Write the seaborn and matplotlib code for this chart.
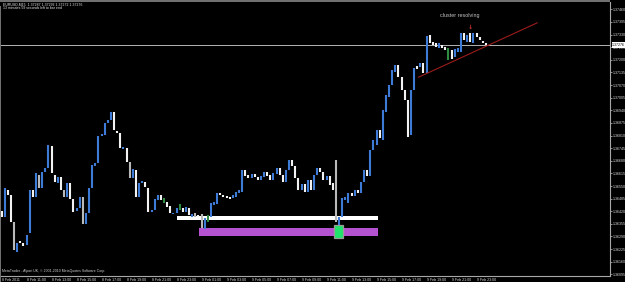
import numpy as np
import pandas as pd
import matplotlib
matplotlib.use("Agg")
import matplotlib.pyplot as plt
import seaborn as sns
from matplotlib.patches import Rectangle

# ---------------- data ----------------
symbol = "EURUSD,M15"
header_ohlc = ["1.37287", "1.37292", "1.37272", "1.37276"]
timer_text = "13 minutes 59 seconds left to bar end"
footer_text = "MetaTrader - Alpari UK, \u00a9 2001-2010 MetaQuotes Software Corp."
note_text = "cluster resolving"

opens = [
    1.36421, 1.36390, 1.36530, 1.36504, 1.36365, 1.36210, 1.36267, 1.36257, 1.36246, 1.36308,
    1.36530, 1.36493, 1.36607, 1.36540, 1.36622, 1.36643, 1.36756, 1.36607, 1.36566, 1.36596,
    1.36530, 1.36493, 1.36566, 1.36483, 1.36421, 1.36437, 1.36493, 1.36354, 1.36411, 1.36540,
    1.36653, 1.36669, 1.36808, 1.36813, 1.36875, 1.36890, 1.36931, 1.36833, 1.36823, 1.36741,
    1.36746, 1.36674, 1.36591, 1.36633, 1.36493, 1.36566, 1.36571, 1.36540, 1.36416, 1.36427,
    1.36478, 1.36504, 1.36488, 1.36468, 1.36447, 1.36406, 1.36411, 1.36457, 1.36437, 1.36416,
    1.36437, 1.36390, 1.36411, 1.36401, 1.36406, 1.36329, 1.36365, 1.36390, 1.36452, 1.36457,
    1.36514, 1.36504, 1.36499, 1.36493, 1.36488, 1.36493, 1.36514, 1.36519, 1.36633, 1.36607,
    1.36591, 1.36612, 1.36596, 1.36581, 1.36596, 1.36622, 1.36607, 1.36581, 1.36612, 1.36643,
    1.36607, 1.36571, 1.36633, 1.36684, 1.36653, 1.36591, 1.36530, 1.36560, 1.36519, 1.36581,
    1.36530, 1.36607, 1.36643, 1.36622, 1.36581, 1.36602, 1.36566, 1.36684, 1.36334, 1.36390,
    1.36478, 1.36463, 1.36514, 1.36499, 1.36530, 1.36514, 1.36571, 1.36633, 1.36602, 1.36736,
    1.36761, 1.36839, 1.36787, 1.36931, 1.37008, 1.37070, 1.37137, 1.37173, 1.37111, 1.37045,
    1.36993, 1.36813, 1.37045, 1.37168, 1.37163, 1.37184, 1.37132, 1.37328, 1.37292, 1.37287,
    1.37261, 1.37276, 1.37266, 1.37261, 1.37251, 1.37214, 1.37240, 1.37240, 1.37338, 1.37292,
    1.37338, 1.37287, 1.37338, 1.37317, 1.37297, 1.37287,
]
closes = [
    1.36390, 1.36540, 1.36504, 1.36365, 1.36221, 1.36257, 1.36257, 1.36241, 1.36298, 1.36530,
    1.36493, 1.36617, 1.36540, 1.36622, 1.36643, 1.36761, 1.36617, 1.36571, 1.36596, 1.36530,
    1.36493, 1.36566, 1.36483, 1.36416, 1.36437, 1.36493, 1.36354, 1.36411, 1.36540, 1.36658,
    1.36669, 1.36808, 1.36818, 1.36875, 1.36890, 1.36931, 1.36839, 1.36823, 1.36746, 1.36751,
    1.36674, 1.36591, 1.36638, 1.36493, 1.36566, 1.36576, 1.36545, 1.36416, 1.36427, 1.36483,
    1.36504, 1.36478, 1.36463, 1.36442, 1.36411, 1.36411, 1.36437, 1.36427, 1.36416, 1.36442,
    1.36401, 1.36406, 1.36390, 1.36390, 1.36334, 1.36385, 1.36401, 1.36463, 1.36468, 1.36514,
    1.36504, 1.36493, 1.36488, 1.36483, 1.36504, 1.36519, 1.36530, 1.36633, 1.36602, 1.36591,
    1.36612, 1.36596, 1.36581, 1.36602, 1.36622, 1.36602, 1.36581, 1.36617, 1.36643, 1.36607,
    1.36571, 1.36633, 1.36684, 1.36653, 1.36591, 1.36530, 1.36560, 1.36519, 1.36581, 1.36530,
    1.36607, 1.36643, 1.36622, 1.36581, 1.36602, 1.36555, 1.36530, 1.36365, 1.36390, 1.36488,
    1.36493, 1.36514, 1.36499, 1.36530, 1.36514, 1.36571, 1.36633, 1.36602, 1.36736, 1.36787,
    1.36839, 1.36797, 1.36942, 1.37019, 1.37070, 1.37148, 1.37173, 1.37111, 1.37045, 1.36993,
    1.36802, 1.37045, 1.37158, 1.37153, 1.37184, 1.37132, 1.37323, 1.37287, 1.37276, 1.37266,
    1.37287, 1.37261, 1.37251, 1.37199, 1.37204, 1.37256, 1.37261, 1.37338, 1.37302, 1.37328,
    1.37292, 1.37338, 1.37317, 1.37302, 1.37287, 1.37276,
]
# candles drawn in other colours than plain bull / bear
special_kinds = {4: "gray", 12: "gray", 20: "gray", 26: "gray", 41: "gray", 62: "gray",
                 64: "gray", 107: "gray", 52: "green", 57: "green", 66: "green", 143: "green"}

current_price = 1.37276

x_tick_bars = [0, 8, 16, 24, 32, 40, 48, 56, 64, 72, 80, 88, 96, 104, 112, 120, 128, 136, 144, 152]
x_tick_labels = ["8 Feb 2011", "8 Feb 11:00", "8 Feb 13:00", "8 Feb 15:00", "8 Feb 17:00",
                 "8 Feb 19:00", "8 Feb 21:00", "8 Feb 23:00", "9 Feb 01:00", "9 Feb 03:00",
                 "9 Feb 05:00", "9 Feb 07:00", "9 Feb 09:00", "9 Feb 11:00", "9 Feb 13:00",
                 "9 Feb 15:00", "9 Feb 17:00", "9 Feb 19:00", "9 Feb 21:00", "9 Feb 23:00"]
y_tick_values = [1.36095, 1.36160, 1.36225, 1.36290, 1.36355, 1.36420, 1.36485, 1.36550,
                 1.36615, 1.36680, 1.36745, 1.36810, 1.36875, 1.36940, 1.37005, 1.37070,
                 1.37135, 1.37200, 1.37265, 1.37330, 1.37395, 1.37460]

white_zone_bars = [56.3, 120.6]
white_zone_prices = [1.36375, 1.36397]
purple_zone_bars = [63.3, 120.6]
purple_zone_prices = [1.36294, 1.36335]
green_box_bars = [106.4, 109.2]
green_box_prices = [1.36281, 1.36349]
trend_bars = [133.4, 171.5]
trend_prices = [1.37110, 1.37391]
arrow_bar = 150
arrow_price = 1.37368
note_bar = 146.5
note_price = 1.37428

# ---------------- style ----------------
sns.set_theme(style="dark")
plt.rcParams["font.family"] = ["Liberation Sans", "DejaVu Sans"]
palette = {"bull": "#3d7bd6", "bear": "#f2f2f2", "gray": "#b9b9b9", "green": "#2e8c40"}

W, H = 625, 282
fig = plt.figure(figsize=(W / 100, H / 100), dpi=100, facecolor="black")
ax = fig.add_axes([0, (H - 275.7) / H, 610 / W, (275.7 - 1.5) / H])
ax.set_facecolor("black")

# zones (behind candles)
ax.add_patch(Rectangle((white_zone_bars[0], white_zone_prices[0]),
                       white_zone_bars[1] - white_zone_bars[0],
                       white_zone_prices[1] - white_zone_prices[0],
                       facecolor="white", edgecolor="none", zorder=1))
ax.add_patch(Rectangle((purple_zone_bars[0], purple_zone_prices[0]),
                       purple_zone_bars[1] - purple_zone_bars[0],
                       purple_zone_prices[1] - purple_zone_prices[0],
                       facecolor="#b452cf", edgecolor="none", zorder=1))
ax.axhline(current_price, color="#b4b4b4", lw=0.7, zorder=1.5)

# candles
rows = []
for i, (o, c) in enumerate(zip(opens, closes)):
    kind = special_kinds.get(i, "bull" if c > o else "bear")
    rows.append((i, o, kind))
    rows.append((i, c, kind))
df = pd.DataFrame(rows, columns=["bar", "price", "kind"])
sns.lineplot(data=df, x="bar", y="price", units="bar", estimator=None, hue="kind",
             palette=palette, linewidth=1.5, legend=False, ax=ax, sort=False,
             solid_capstyle="butt", zorder=3)

# objects on top
ax.add_patch(Rectangle((green_box_bars[0], green_box_prices[0]),
                       green_box_bars[1] - green_box_bars[0],
                       green_box_prices[1] - green_box_prices[0],
                       facecolor="#1fe36a", edgecolor="#9a9a9a", lw=0.9, zorder=4))
ax.plot(trend_bars, trend_prices, color="#9c1c1c", lw=0.8, zorder=4)
ax.text(arrow_bar, arrow_price, "\u2193", color="#c83232", fontsize=4.5,
        fontweight="bold", ha="center", va="center", family="DejaVu Sans", zorder=5)
ax.text(note_bar, note_price, note_text, color="#c4c4c4", fontsize=3.9,
        ha="center", va="center", zorder=5)

# axes
ax.set_xlim(-0.48, 194.72)
ax.set_ylim(1.360881, 1.375003)
ax.yaxis.tick_right()
ax.set_yticks(y_tick_values)
ax.set_yticklabels([f"{v:.5f}" for v in y_tick_values])
ax.set_xticks(x_tick_bars)
ax.set_xticklabels(x_tick_labels, ha="left")
ax.tick_params(axis="both", colors="#a8a8a8", labelcolor="#dcdcdc", length=1.6,
               width=0.6, labelsize=2.6, pad=0.4)
ax.tick_params(axis="y", right=True, left=False, labelright=True, labelleft=False)
ax.set_xlabel("")
ax.set_ylabel("")
ax.grid(False)
for s in ["left", "top"]:
    ax.spines[s].set_visible(False)
for s in ["right", "bottom"]:
    ax.spines[s].set_visible(True)
    ax.spines[s].set_color("#a8a8a8")
    ax.spines[s].set_linewidth(0.8)

ax.annotate(f"{current_price:.5f}", xy=(1, current_price), xycoords=("axes fraction", "data"),
            xytext=(1.6, 0), textcoords="offset points", va="center", ha="left",
            fontsize=2.6, color="black", annotation_clip=False,
            bbox=dict(boxstyle="square,pad=0.2", fc="white", ec="none"))

# window frame
fig.patches.append(Rectangle((0, 0), 1.5 / W, 276 / H, transform=fig.transFigure,
                             facecolor="#707070", edgecolor="none", zorder=10))
fig.patches.append(Rectangle((0, 1 - 1.5 / H), 610 / W, 1.5 / H, transform=fig.transFigure,
                             facecolor="#707070", edgecolor="none", zorder=10))

# header / footer texts
fig.text(3 / W, 1 - 4.2 / H, f"{symbol}  {' '.join(header_ohlc)}", fontsize=2.5,
         color="#e6e6e6", ha="left", va="center")
fig.text(3 / W, 1 - 7.8 / H, timer_text, fontsize=2.5, color="#e6e6e6", ha="left", va="center")
fig.text(2.5 / W, 1 - 271.3 / H, footer_text, fontsize=2.5, color="#cfcfcf",
         ha="left", va="center")

fig.savefig("out.png", dpi=100, facecolor="black")
